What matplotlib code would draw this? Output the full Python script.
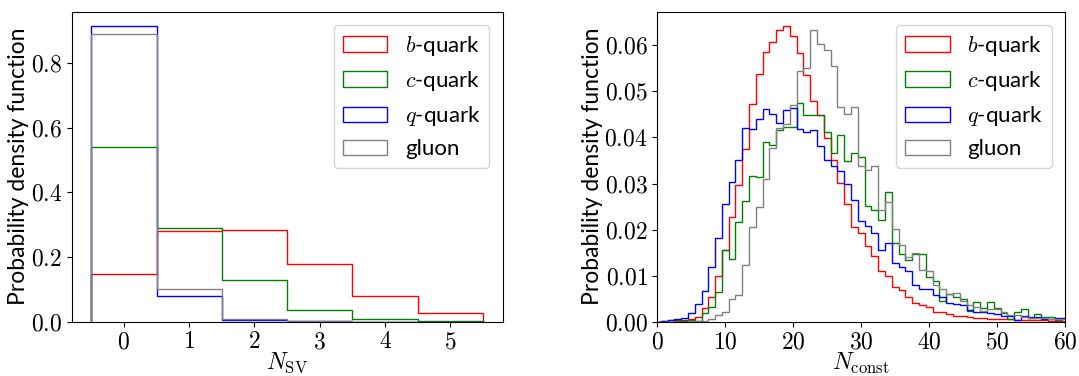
import numpy as np
import matplotlib
matplotlib.use("Agg")
import matplotlib.pyplot as plt
from matplotlib.ticker import FormatStrFormatter, MultipleLocator

plt.rcParams["mathtext.fontset"] = "cm"
plt.rcParams["font.family"] = ["Lato", "DejaVu Sans"]

labels = [r"$b$-quark", r"$c$-quark", r"$q$-quark", "gluon"]
colors = ["red", "green", "blue", "gray"]

# N_SV, bins centred on 0..5
nsv = [0, 1, 2, 3, 4, 5]
nsv_b = [0.147, 0.282, 0.285, 0.180, 0.081, 0.028]
nsv_c = [0.540, 0.291, 0.128, 0.035, 0.007, 0.003]
nsv_q = [0.914, 0.079, 0.006, 0.001, 0.0, 0.0]
nsv_g = [0.890, 0.100, 0.009, 0.001, 0.0, 0.0]

# N_const, bins centred on 0..60
nconst = list(range(61))
nconst_b = [0, 0, 0, 0.0001, 0.0002, 0.0005, 0.0011, 0.0030, 0.0053, 0.0100,
            0.0155, 0.0227, 0.0297, 0.0375, 0.0472, 0.0538, 0.0586, 0.0607, 0.0633, 0.0641,
            0.0620, 0.0584, 0.0536, 0.0479, 0.0448, 0.0398, 0.0351, 0.0302, 0.0255, 0.0206,
            0.0193, 0.0164, 0.0142, 0.0110, 0.0099, 0.0076, 0.0069, 0.0053, 0.0041, 0.0036,
            0.0031, 0.0022, 0.0020, 0.0017, 0.0013, 0.0012, 0.0010, 0.0009, 0.0007, 0.0006,
            0.0006, 0.0005, 0.0005, 0.0004, 0.0004, 0.0003, 0.0003, 0.0003, 0.0002, 0.0002,
            0.0002]
nconst_c = [0, 0.0001, 0.0003, 0.0004, 0.0004, 0.0004, 0.0001, 0.0018, 0.0031, 0.0065,
            0.0155, 0.0137, 0.0217, 0.0263, 0.0317, 0.0315, 0.0390, 0.0383, 0.0416, 0.0422,
            0.0423, 0.0474, 0.0448, 0.0448, 0.0448, 0.0412, 0.0366, 0.0406, 0.0348, 0.0366,
            0.0358, 0.0251, 0.0242, 0.0220, 0.0282, 0.0170, 0.0148, 0.0134, 0.0148, 0.0148,
            0.0098, 0.0089, 0.0046, 0.0060, 0.0053, 0.0050, 0.0023, 0.0043, 0.0029, 0.0043,
            0.0029, 0.0018, 0.0005, 0.0020, 0.0027, 0.0007, 0.0016, 0.0011, 0.0011, 0.0004,
            0.0007]
nconst_q = [0, 0.0002, 0.0003, 0.0006, 0.0009, 0.0018, 0.0038, 0.0067, 0.0118, 0.0181,
            0.0255, 0.0304, 0.0351, 0.0421, 0.0418, 0.0441, 0.0461, 0.0450, 0.0432, 0.0459,
            0.0464, 0.0418, 0.0412, 0.0416, 0.0381, 0.0351, 0.0338, 0.0328, 0.0298, 0.0264,
            0.0218, 0.0208, 0.0193, 0.0155, 0.0171, 0.0127, 0.0118, 0.0110, 0.0080, 0.0072,
            0.0072, 0.0058, 0.0054, 0.0041, 0.0038, 0.0036, 0.0025, 0.0022, 0.0021, 0.0018,
            0.0017, 0.0013, 0.0012, 0.0004, 0.0012, 0.0010, 0.0010, 0.0005, 0.0005, 0.0007,
            0.0007]
nconst_g = [0, 0, 0, 0, 0, 0.0001, 0.0001, 0.0002, 0.0006, 0.0014,
            0.0022, 0.0050, 0.0058, 0.0123, 0.0205, 0.0250, 0.0310, 0.0377, 0.0420, 0.0430,
            0.0470, 0.0545, 0.0550, 0.0633, 0.0603, 0.0590, 0.0555, 0.0467, 0.0450, 0.0467,
            0.0338, 0.0330, 0.0338, 0.0242, 0.0260, 0.0202, 0.0166, 0.0140, 0.0150, 0.0112,
            0.0110, 0.0080, 0.0070, 0.0060, 0.0062, 0.0046, 0.0036, 0.0033, 0.0024, 0.0027,
            0.0027, 0.0020, 0.0015, 0.0015, 0.0011, 0.0008, 0.0008, 0.0008, 0.0005, 0.0005,
            0.0005]

fig = plt.figure(figsize=(10.79, 3.76), dpi=100)
ax1 = fig.add_axes([0.0664, 0.1444, 0.3994, 0.8245])
ax2 = fig.add_axes([0.6092, 0.1444, 0.3779, 0.8245])

edges1 = np.arange(-0.5, 6, 1)
for vals, c, lab in zip([nsv_b, nsv_c, nsv_q, nsv_g], colors, labels):
    ax1.hist(nsv, bins=edges1, weights=vals, histtype="step", color=c, label=lab, lw=1)

edges2 = np.arange(-0.5, 61, 1)
for vals, c, lab in zip([nconst_b, nconst_c, nconst_q, nconst_g], colors, labels):
    ax2.hist(nconst, bins=edges2, weights=vals, histtype="step", color=c, label=lab, lw=1)
ax2.set_xlim(0, 60)

ax1.xaxis.set_major_locator(MultipleLocator(1))
ax2.xaxis.set_major_locator(MultipleLocator(10))
ax1.yaxis.set_major_locator(MultipleLocator(0.2))
ax2.yaxis.set_major_locator(MultipleLocator(0.01))

ax1.set_xlabel(r"$N_{\rm SV}$", fontsize=17, labelpad=-1)
ax2.set_xlabel(r"$N_{\rm const}$", fontsize=17, labelpad=-1)
for ax in (ax1, ax2):
    ax.set_ylabel("Probability density function", fontsize=16.5, labelpad=1)
    ax.tick_params(labelsize=17)
    ax.xaxis.set_major_formatter(FormatStrFormatter("$%d$"))
    ax.legend(fontsize=16, loc="upper right", borderaxespad=0.6)
ax1.yaxis.set_major_formatter(FormatStrFormatter("$%.1f$"))
ax2.yaxis.set_major_formatter(FormatStrFormatter("$%.2f$"))

plt.savefig("out.png")
